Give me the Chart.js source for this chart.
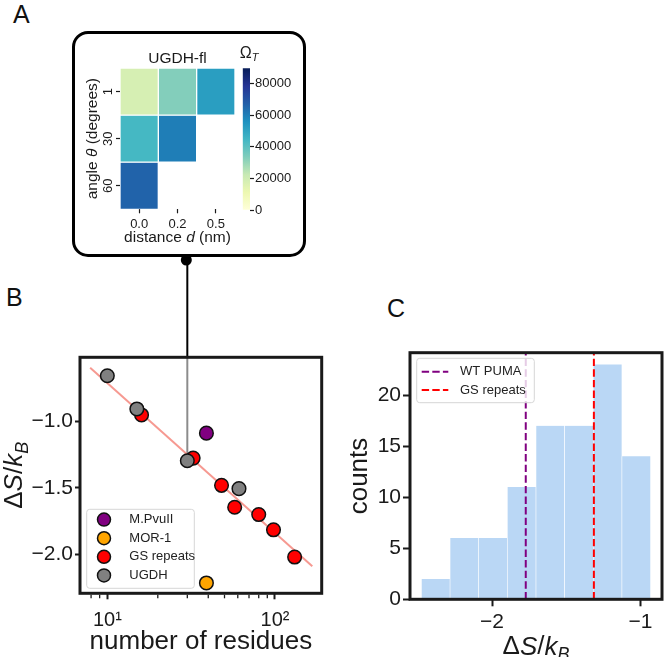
<!DOCTYPE html>
<html><head><meta charset="utf-8">
<script src="https://cdn.jsdelivr.net/npm/chart.js@4.4.0/dist/chart.umd.min.js"></script>
<style>
html,body{margin:0;padding:0;background:#fff;}
#wrap{position:relative;width:664px;height:657px;overflow:hidden;font-family:"Liberation Sans",Arial,sans-serif;color:#1a1a1a;}
.letter{position:absolute;font-size:25px;line-height:1;color:#111;}
#boxA{position:absolute;left:72px;top:31px;width:234px;height:226px;border:3px solid #000;border-radius:16px;box-sizing:border-box;}
canvas{position:absolute;}
</style></head><body>
<div id="wrap">
  <div class="letter" style="left:13px;top:2px">A</div>
  <div class="letter" style="left:6px;top:285px">B</div>
  <div class="letter" style="left:387px;top:296px">C</div>
  <div id="boxA"></div>
  <canvas id="cA" width="164" height="214" style="left:78px;top:36px"></canvas>
  <canvas id="cCB" width="66" height="180" style="left:236px;top:40px"></canvas>
  <canvas id="cB" width="330" height="407" style="left:0px;top:250px"></canvas>
  <canvas id="cC" width="334" height="367" style="left:330px;top:290px"></canvas>
</div>
<script>
// ---------------- DATA ----------------
// Panel A: heatmap of Omega_T
const hmDistances = ['0.0', '0.2', '0.5'];
const hmAngles = ['1', '30', '60'];
const omegaAngle1 = [18000, 33000, 52000];
const omegaAngle30 = [44000, 60000, null];
const omegaAngle60 = [66000, null, null];
const omegaMax = 89500;
const colorbarTicks = [0, 20000, 40000, 60000, 80000];

// Panel B: entropy vs number of residues
const pvuResidues = [39];
const pvuEntropy = [-1.087];
const morResidues = [39];
const morEntropy = [-2.215];
const gsResidues = [16, 32.5, 48, 57.5, 80, 98, 131];
const gsEntropy = [-0.95, -1.275, -1.48, -1.645, -1.70, -1.815, -2.02];
const ugdhResidues = [10, 15, 30, 61];
const ugdhEntropy = [-0.655, -0.905, -1.295, -1.505];
const fitResidues = [7.9, 167];
const fitEntropy = [-0.594, -2.09];
const linkedIndex = 2; // UGDH point linked to panel A
const bXRange = [6.87, 190];
const bYRange = [-2.293, -0.516];
const bYTicks = [-2.0, -1.5, -1.0];
const bXMajorTicks = [10, 100];
const bXMajorLabels = ['10\u00B9', '10\u00B2'];

// Panel C: histogram
const histEdges = [-2.476, -2.283, -2.090, -1.897, -1.704, -1.511, -1.318, -1.125, -0.932];
const histCounts = [2, 6, 6, 11, 17, 17, 23, 14];
const wtPumaEntropy = -1.773;
const gsRepeatsEntropy = -1.314;
const cXRange = [-2.553, -0.855];
const cYRange = [0, 24.15];
const cXTicks = [-2, -1];
const cYTicks = [0, 5, 10, 15, 20];

// ---------------- STYLE HELPERS ----------------
const FONT = '"Liberation Sans", Arial, sans-serif';
const TXT = '#1a1a1a';
const YLGNBU = ['#ffffd9','#edf8b1','#c7e9b4','#7fcdbb','#41b6c4','#1d91c0','#225ea8','#253494','#081d58'];
function hex2rgb(h){return [parseInt(h.slice(1,3),16),parseInt(h.slice(3,5),16),parseInt(h.slice(5,7),16)];}
function ylgnbu(t){
  t = Math.max(0, Math.min(1, t));
  const p = t * (YLGNBU.length - 1), k = Math.min(Math.floor(p), YLGNBU.length - 2), f = p - k;
  const a = hex2rgb(YLGNBU[k]), b = hex2rgb(YLGNBU[k+1]);
  return `rgb(${a.map((v,i)=>Math.round(v+(b[i]-v)*f)).join(',')})`;
}
function rich(ctx, parts, x, y, size, opts = {}) {
  const rot = opts.rot || 0, align = opts.align || 'center';
  ctx.save();
  ctx.fillStyle = opts.color || TXT;
  ctx.textBaseline = 'middle';
  ctx.textAlign = 'left';
  const fontOf = p => `${p.i ? 'italic ' : ''}${p.sub ? Math.round(size * 0.7) : size}px ${FONT}`;
  let w = 0;
  const ws = parts.map(p => { ctx.font = fontOf(p); const m = ctx.measureText(p.t).width; w += m; return m; });
  ctx.translate(x, y); ctx.rotate(rot);
  let cx = align === 'center' ? -w / 2 : align === 'right' ? -w : 0;
  parts.forEach((p, k) => { ctx.font = fontOf(p); ctx.fillText(p.t, cx, p.sub ? size * 0.3 : 0); cx += ws[k]; });
  ctx.restore();
}
function roundRect(ctx, x, y, w, h, r) {
  ctx.beginPath();
  ctx.moveTo(x + r, y); ctx.lineTo(x + w - r, y); ctx.quadraticCurveTo(x + w, y, x + w, y + r);
  ctx.lineTo(x + w, y + h - r); ctx.quadraticCurveTo(x + w, y + h, x + w - r, y + h);
  ctx.lineTo(x + r, y + h); ctx.quadraticCurveTo(x, y + h, x, y + h - r);
  ctx.lineTo(x, y + r); ctx.quadraticCurveTo(x, y, x + r, y); ctx.closePath();
}
const minusFmt = (v, dec) => (v < 0 ? '\u2212' : '') + Math.abs(v).toFixed(dec);
const base = { responsive: false, animation: false, events: [], plugins: { legend: { display: false }, tooltip: { enabled: false } } };

// ---------------- PANEL A: heatmap ----------------
const hmRows = [omegaAngle1, omegaAngle30, omegaAngle60];
new Chart(document.getElementById('cA'), {
  type: 'bar',
  data: {
    labels: hmDistances,
    datasets: hmRows.map((row, i) => ({
      label: hmAngles[i],
      data: row.map(v => v == null ? null : [i, i + 1]),
      backgroundColor: row.map(v => v == null ? 'rgba(0,0,0,0)' : ylgnbu(v / omegaMax)),
      borderColor: '#ffffff', borderWidth: 1, borderSkipped: false,
      barPercentage: 1, categoryPercentage: 1
    }))
  },
  options: Object.assign({}, base, {
    layout: { padding: { left: 0, right: 7, top: 32, bottom: 0 } },
    scales: {
      x: { stacked: true,
        grid: { offset: false, drawOnChartArea: false, tickLength: 4, tickColor: TXT, tickWidth: 1.2 },
        border: { display: false },
        ticks: { font: { family: FONT, size: 13 }, color: TXT, padding: 3, maxRotation: 0 },
        afterFit: s => { s.height = 40.7; } },
      y: { min: 0, max: 3, reverse: true, stacked: false,
        grid: { drawOnChartArea: false, tickLength: 4, tickColor: TXT, tickWidth: 1.2 },
        border: { display: false },
        ticks: { display: false },
        afterBuildTicks: s => { s.ticks = hmAngles.map((a, i) => ({ value: i + 0.5 })); },
        afterFit: s => { s.width = 42; } }
    }
  }),
  plugins: [{ id: 'hmText', afterDraw(chart) {
    const ctx = chart.ctx, ca = chart.chartArea, ys = chart.scales.y;
    hmAngles.forEach((a, i) => rich(ctx, [{ t: a }], ca.left - 12, ys.getPixelForValue(i + 0.5), 13, { rot: -Math.PI / 2 }));
    rich(ctx, [{ t: 'angle ' }, { t: '\u03B8', i: true }, { t: ' (degrees)' }], ca.left - 27, (ca.top + ca.bottom) / 2, 15.5, { rot: -Math.PI / 2 });
    rich(ctx, [{ t: 'distance ' }, { t: 'd', i: true }, { t: ' (nm)' }], (ca.left + ca.right) / 2, ca.bottom + 28, 15.5);
    rich(ctx, [{ t: 'UGDH-fl' }], (ca.left + ca.right) / 2, ca.top - 9, 15.5);
  } }]
});

// colorbar
new Chart(document.getElementById('cCB'), {
  type: 'bar',
  data: { labels: ['cb'], datasets: [{ data: [[0, omegaMax]], borderWidth: 0, barPercentage: 1, categoryPercentage: 1,
    backgroundColor: c => {
      const ca = c.chart.chartArea; if (!ca) return YLGNBU[4];
      const g = c.chart.ctx.createLinearGradient(0, ca.bottom, 0, ca.top);
      YLGNBU.forEach((col, k) => g.addColorStop(k / (YLGNBU.length - 1), col));
      return g;
    } }] },
  options: Object.assign({}, base, {
    layout: { padding: { left: 6.7, top: 28.3, right: 0, bottom: 10 } },
    scales: {
      x: { display: false },
      y: { position: 'right', min: 0, max: omegaMax,
        afterBuildTicks: s => { s.ticks = colorbarTicks.map(v => ({ value: v })); },
        ticks: { font: { family: FONT, size: 13 }, color: TXT, padding: 1, callback: v => String(v) },
        grid: { drawOnChartArea: false, tickLength: 4, tickColor: TXT, tickWidth: 1.2 },
        border: { display: false },
        afterFit: s => { s.width = 52; } }
    }
  }),
  plugins: [{ id: 'cbTitle', afterDraw(chart) {
    const ca = chart.chartArea;
    rich(chart.ctx, [{ t: '\u03A9' }, { t: 'T', i: true, sub: true }], ca.left - 3, ca.top - 15, 16, { align: 'left' });
  } }]
});

// ---------------- PANEL B: scatter ----------------
const pts = (xs, ys) => xs.map((x, i) => ({ x, y: ys[i] }));
const mk = (label, xs, ys, color, order) => ({ label, data: pts(xs, ys), backgroundColor: color, borderColor: '#111',
  borderWidth: 1.5, pointRadius: 6.8, order });
const isPow10 = v => Math.abs(Math.log10(v) - Math.round(Math.log10(v))) < 1e-6;
const isNiceLog = v => { const m = v / Math.pow(10, Math.floor(Math.log10(v) + 1e-9)); return Math.abs(m - Math.round(m)) < 1e-6; };
const bSets = [
  mk('M.PvuII', pvuResidues, pvuEntropy, '#800080', 1),
  mk('MOR-1', morResidues, morEntropy, '#ffa500', 1),
  mk('GS repeats', gsResidues, gsEntropy, '#ff0000', 2),
  mk('UGDH', ugdhResidues, ugdhEntropy, '#808080', 0)
];
new Chart(document.getElementById('cB'), {
  type: 'scatter',
  data: { datasets: [
    { label: 'fit', data: pts(fitResidues, fitEntropy), showLine: true, pointRadius: 0, borderColor: 'rgba(244,128,118,0.8)', borderWidth: 2, order: 5 },
    ...bSets
  ] },
  options: Object.assign({}, base, {
    layout: { padding: { left: 0, right: 8.3, top: 107.3, bottom: 0 } },
    scales: {
      x: { type: 'logarithmic', min: bXRange[0], max: bXRange[1],
        afterBuildTicks: s => { s.ticks = s.ticks.filter(t => t.value > bXRange[0] && t.value < bXRange[1] && isNiceLog(t.value)); },
        ticks: { autoSkip: false, maxRotation: 0, font: { family: FONT, size: 20 }, color: TXT, padding: 9,
          callback: v => { const k = bXMajorTicks.findIndex(m => Math.abs(m - v) < 1e-6); return k >= 0 ? bXMajorLabels[k] : ''; } },
        grid: { drawOnChartArea: false, tickLength: 6, tickWidth: 2,
          tickColor: c => (c.tick && isPow10(c.tick.value)) ? TXT : 'rgba(0,0,0,0)' },
        border: { display: false },
        afterFit: s => { s.height = 63.7; } },
      y: { min: bYRange[0], max: bYRange[1],
        afterBuildTicks: s => { s.ticks = bYTicks.map(v => ({ value: v })); },
        ticks: { font: { family: FONT, size: 21 }, color: TXT, padding: 2, callback: v => minusFmt(v, 1) },
        grid: { drawOnChartArea: false, tickLength: 5, tickWidth: 2, tickColor: TXT },
        border: { display: false },
        afterFit: s => { s.width = 80; } }
    }
  }),
  plugins: [{ id: 'bDeco',
    beforeDatasetsDraw(chart) {
      const ctx = chart.ctx, ca = chart.chartArea, xs = chart.scales.x, ys = chart.scales.y;
      const px = xs.getPixelForValue(ugdhResidues[linkedIndex]), py = ys.getPixelForValue(ugdhEntropy[linkedIndex]);
      ctx.save();
      ctx.strokeStyle = '#000'; ctx.lineWidth = 2;
      ctx.beginPath(); ctx.moveTo(px, ca.top - 97.3); ctx.lineTo(px, ca.top); ctx.stroke();
      ctx.strokeStyle = 'rgba(120,120,120,0.85)';
      ctx.beginPath(); ctx.moveTo(px, ca.top); ctx.lineTo(px, py); ctx.stroke();
      ctx.fillStyle = '#000';
      ctx.beginPath(); ctx.arc(px - 1, ca.top - 97.3, 5.5, 0, Math.PI * 2); ctx.fill();
      ctx.restore();
    },
    afterDatasetsDraw(chart) {
      const ctx = chart.ctx, ca = chart.chartArea, xs = chart.scales.x;
      ctx.save();
      ctx.strokeStyle = TXT; ctx.lineWidth = 3;
      ctx.strokeRect(ca.left, ca.top, ca.width, ca.height);
      ctx.lineWidth = 1.3;
      xs.ticks.forEach(t => { if (!isPow10(t.value)) { const x = xs.getPixelForValue(t.value);
        ctx.beginPath(); ctx.moveTo(x, ca.bottom + 1.5); ctx.lineTo(x, ca.bottom + 5); ctx.stroke(); } });
      // legend
      const lx = ca.left + 6.7, ly = ca.bottom - 84, lw = 107.6, lh = 79;
      roundRect(ctx, lx, ly, lw, lh, 3);
      ctx.fillStyle = 'rgba(255,255,255,0.8)'; ctx.fill();
      ctx.strokeStyle = '#d6d6d6'; ctx.lineWidth = 1; ctx.stroke();
      bSets.forEach((d, k) => {
        const yy = ly + 10.3 + k * 18.6;
        ctx.beginPath(); ctx.arc(lx + 17.3, yy, 6.5, 0, Math.PI * 2);
        ctx.fillStyle = d.backgroundColor; ctx.fill(); ctx.strokeStyle = '#111'; ctx.lineWidth = 1.5; ctx.stroke();
        rich(ctx, [{ t: d.label }], lx + 42.6, yy, 13, { align: 'left', color: '#222' });
      });
      ctx.restore();
      rich(ctx, [{ t: 'number of residues' }], (ca.left + ca.right) / 2, ca.bottom + 49, 26);
      rich(ctx, [{ t: '\u0394' }, { t: 'S', i: true }, { t: '/' }, { t: 'k', i: true }, { t: 'B', i: true, sub: true }], ca.left - 65, (ca.top + ca.bottom) / 2, 26, { rot: -Math.PI / 2 });
    } }]
});

// ---------------- PANEL C: histogram ----------------
const histCenters = histCounts.map((c, i) => (histEdges[i] + histEdges[i + 1]) / 2);
const vline = (label, x, color) => ({ type: 'line', label, data: [{ x, y: cYRange[0] }, { x, y: cYRange[1] }],
  borderColor: color, borderWidth: 2, borderDash: [7.4, 3.2], pointRadius: 0, order: 0 });
const cLines = [vline('WT PUMA', wtPumaEntropy, '#800080'), vline('GS repeats', gsRepeatsEntropy, '#ff0000')];
new Chart(document.getElementById('cC'), {
  type: 'bar',
  data: { datasets: [
    ...cLines,
    { type: 'bar', label: 'hist', data: histCenters.map((x, i) => ({ x, y: histCounts[i] })),
      backgroundColor: 'rgb(186,215,245)', borderColor: '#ffffff', borderWidth: { left: 0.6, right: 0.6, top: 0, bottom: 0 },
      barPercentage: 1, categoryPercentage: 1, order: 1 }
  ] },
  options: Object.assign({}, base, {
    layout: { padding: { left: 0, right: 2, top: 62.7, bottom: 0 } },
    scales: {
      x: { type: 'linear', offset: false, min: cXRange[0], max: cXRange[1],
        afterBuildTicks: s => { s.ticks = cXTicks.map(v => ({ value: v })); },
        ticks: { font: { family: FONT, size: 21 }, color: TXT, padding: 3, maxRotation: 0, callback: v => minusFmt(v, 0) },
        grid: { offset: false, drawOnChartArea: false, tickLength: 7, tickWidth: 2, tickColor: TXT },
        border: { display: false },
        afterFit: s => { s.height = 57.7; } },
      y: { min: cYRange[0], max: cYRange[1],
        afterBuildTicks: s => { s.ticks = cYTicks.map(v => ({ value: v })); },
        ticks: { font: { family: FONT, size: 21 }, color: TXT, padding: 2, callback: v => String(v) },
        grid: { drawOnChartArea: false, tickLength: 7, tickWidth: 2, tickColor: TXT },
        border: { display: false },
        afterFit: s => { s.width = 80; } }
    }
  }),
  plugins: [{ id: 'cDeco', afterDatasetsDraw(chart) {
    const ctx = chart.ctx, ca = chart.chartArea;
    ctx.save();
    ctx.strokeStyle = TXT; ctx.lineWidth = 3;
    ctx.strokeRect(ca.left, ca.top, ca.width, ca.height);
    const lx = ca.left + 6.7, ly = ca.top + 5.6, lw = 117.6, lh = 44.4;
    roundRect(ctx, lx, ly, lw, lh, 3);
    ctx.fillStyle = 'rgba(255,255,255,0.8)'; ctx.fill();
    ctx.strokeStyle = '#d6d6d6'; ctx.lineWidth = 1; ctx.stroke();
    cLines.forEach((d, k) => {
      const yy = ly + 13.4 + k * 18.3;
      ctx.strokeStyle = d.borderColor; ctx.lineWidth = 2; ctx.setLineDash(d.borderDash);
      ctx.beginPath(); ctx.moveTo(lx + 5, yy); ctx.lineTo(lx + 31.6, yy); ctx.stroke();
      ctx.setLineDash([]);
      rich(ctx, [{ t: d.label }], lx + 43.3, yy, 13, { align: 'left', color: '#222' });
    });
    ctx.restore();
    rich(ctx, [{ t: 'counts' }], ca.left - 50, (ca.top + ca.bottom) / 2, 26, { rot: -Math.PI / 2 });
    rich(ctx, [{ t: '\u0394' }, { t: 'S', i: true }, { t: '/' }, { t: 'k', i: true }, { t: 'B', i: true, sub: true }], (ca.left + ca.right) / 2, ca.bottom + 48, 26);
  } }]
});
</script>
</body></html>
